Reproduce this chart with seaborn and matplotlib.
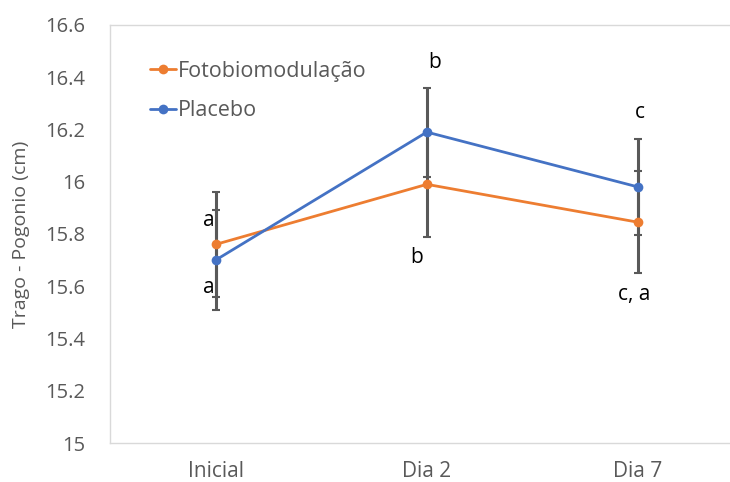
import numpy as np
import pandas as pd
import matplotlib
matplotlib.use('Agg')
import matplotlib.pyplot as plt
import seaborn as sns

# data
dias = ['Inicial', 'Dia 2', 'Dia 7']
foto_media = [15.76, 15.99, 15.845]
foto_dp = [0.20, 0.20, 0.195]
placebo_media = [15.70, 16.19, 15.98]
placebo_dp = [0.19, 0.17, 0.185]

# significance letters: (group index, text, dx, y)
letras = [(0, 'a', -0.03, 15.85), (0, 'a', -0.03, 15.595),
          (1, 'b', 0.035, 16.455), (1, 'b', -0.05, 15.71),
          (2, 'c', 0.01, 16.265), (2, 'c, a', -0.02, 15.57)]

laranja = '#ED7D31'
azul = '#4472C4'
cinza = '#595959'

sns.set_style('white')
plt.rcParams['font.family'] = ['Open Sans', 'DejaVu Sans']

df = pd.DataFrame({
    'Dia': dias * 2,
    'Valor': foto_media + placebo_media,
    'Grupo': ['Fotobiomodulação'] * 3 + ['Placebo'] * 3,
})

fig = plt.figure(figsize=(7.3, 4.82), dpi=100)
ax = fig.add_axes([0.1507, 0.0809, 0.868, 0.8673])

xpos = np.arange(len(dias))
ax.errorbar(xpos, foto_media, yerr=foto_dp, fmt='none', ecolor=cinza,
            elinewidth=2.2, capsize=3, capthick=1.5, zorder=1)
ax.errorbar(xpos, placebo_media, yerr=placebo_dp, fmt='none', ecolor=cinza,
            elinewidth=2.2, capsize=3, capthick=1.5, zorder=1)

sns.lineplot(data=df, x='Dia', y='Valor', hue='Grupo', sort=False,
             palette=[laranja, azul], marker='o', markersize=7,
             markeredgewidth=0, linewidth=2, ax=ax, zorder=3)

for i, txt, dx, y in letras:
    ax.text(xpos[i] + dx, y, txt, ha='center', va='center', fontsize=15,
            color='black')

ax.set_xlim(-0.5, 2.5)
ax.set_ylim(15, 16.6)
ax.set_yticks(np.arange(15, 16.61, 0.2))
ax.set_yticklabels(['15', '15.2', '15.4', '15.6', '15.8', '16', '16.2',
                    '16.4', '16.6'])
ax.tick_params(axis='both', colors=cinza, length=0)
ax.tick_params(axis='y', pad=18, labelsize=14.5)
ax.tick_params(axis='x', pad=13, labelsize=15)
ax.set_xlabel('')
ax.set_ylabel('Trago - Pogonio (cm)', fontsize=14, color=cinza)
ax.yaxis.set_label_coords(-0.127, 0.5)
for s in ax.spines.values():
    s.set_color('#d9d9d9')
    s.set_linewidth(1)

leg = ax.legend(loc='upper left', bbox_to_anchor=(0.05, 0.935), frameon=False,
                fontsize=15.5, handlelength=1.2, handletextpad=0.1,
                labelspacing=0.85, borderaxespad=0)
for t in leg.get_texts():
    t.set_color(cinza)

fig.savefig('out.png', dpi=100)
